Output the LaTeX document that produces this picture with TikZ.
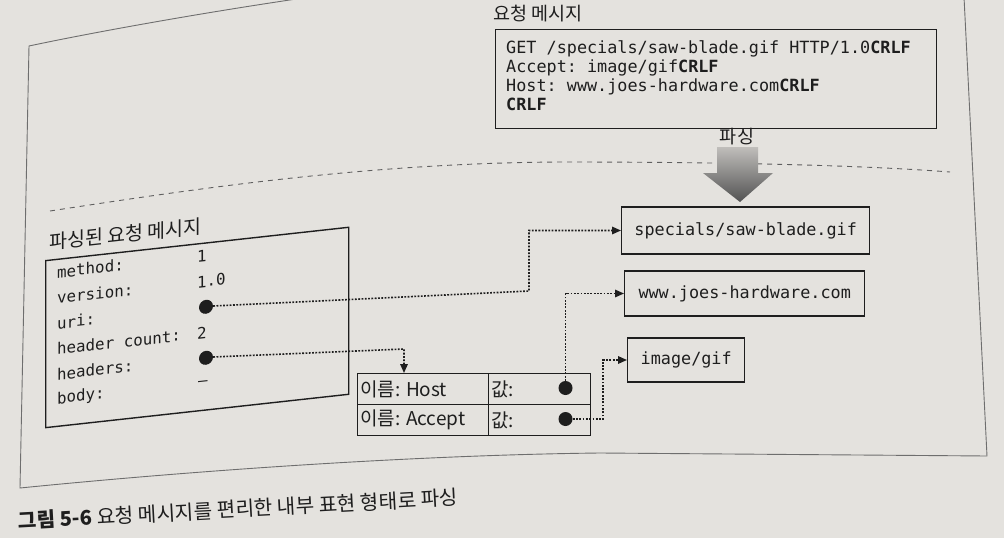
\documentclass[tikz,border=0pt]{standalone}
\usepackage{fontspec}
\setmainfont{Noto Sans CJK KR}
\setmonofont{DejaVu Sans Mono}
\usetikzlibrary{arrows.meta}
\definecolor{paper}{RGB}{228,226,222}
\definecolor{inkc}{RGB}{30,30,30}
\definecolor{framec}{RGB}{110,110,110}
\definecolor{dashc}{RGB}{95,95,95}
\begin{document}
\begin{tikzpicture}[x=1pt,y=-1pt,
  box/.style={draw=inkc, line width=1.4pt, inner sep=0pt},
  mono/.style={font=\fontsize{16.8}{20}\selectfont\ttfamily, text=inkc, inner sep=0pt},
  monosm/.style={font=\fontsize{15.8}{19}\selectfont\ttfamily, text=inkc, inner sep=0pt},
  kr/.style={font=\fontsize{18.5}{22}\selectfont, text=inkc, inner sep=0pt},
  krcell/.style={font=\fontsize{19}{22}\selectfont, text=inkc, inner sep=0pt},
  cell/.style={draw=inkc, line width=1.4pt, inner sep=0pt, minimum height=31pt, anchor=north west},
  ptr/.style={circle, fill=inkc, minimum size=14pt, inner sep=0pt},
  link/.style={draw=inkc, line width=1.6pt, dash pattern=on 1.8pt off 1.5pt},
  arrowend/.style={-{Triangle[length=9pt,width=7.5pt]}},
  framestyle/.style={draw=framec, line width=0.9pt},
  sep/.style={draw=dashc, line width=0.9pt, dash pattern=on 5pt off 5pt},
]
\useasboundingbox (0,0) rectangle (1004,538);
\fill[paper] (0,0) rectangle (1004,538);

% outer frame (photographed page, slightly curved)
\begin{scope}
\clip (0,0) rectangle (1004,538);
\draw[framestyle] (310,-3) .. controls (200,13) and (90,33) .. (29,46)
  -- (20,488) .. controls (200,470) and (420,455) .. (600,453)
  -- (987,456) -- (964,-3);
\end{scope}

% separator
\draw[sep] (50,211) .. controls (200,188) and (370,163) .. (560,162)
  .. controls (720,162) and (860,165) .. (950,172);

% request message
\node[kr, anchor=west] (reqtitle) at (493,14) {요청 메시지};
\node[box, anchor=north west, minimum width=441pt, minimum height=99pt] (req) at (495,29) {};
\node[mono, anchor=base west] (rq1) at (506,53) {GET /specials/saw-blade.gif HTTP/1.0\textbf{CRLF}};
\node[mono, anchor=base west] (rq2) at (506,72) {Accept: image/gif\textbf{CRLF}};
\node[mono, anchor=base west] (rq3) at (506,91) {Host: www.joes-hardware.com\textbf{CRLF}};
\node[mono, anchor=base west] (rq4) at (506,110) {\textbf{CRLF}};

% parsing arrow
\node[kr] (parse) at (737,137) {파싱};
\shade[top color={rgb,255:red,192;green,190;blue,187}, bottom color={rgb,255:red,82;green,82;blue,82}]
  (717,147) -- (758,147) -- (758,173) -- (773,173) -- (740,202) -- (703,173) -- (717,173) -- cycle;

% parsed message box (photographed with a slight shear)
\begin{scope}[shift={(45,260)}, yslant=0.11]
  \node[box, anchor=north west, minimum width=303pt, minimum height=167pt, transform shape] (pbox) at (0,0) {};
  \node[kr, anchor=west, transform shape] (ptitle) at (4,-17) {\fontsize{19.5}{22}\selectfont 파싱된 요청 메시지};
  \node[monosm, anchor=west, transform shape] (l1) at (12,13.5) {method:};
  \node[monosm, anchor=west, transform shape] (l2) at (12,39) {version:};
  \node[monosm, anchor=west, transform shape] (l3) at (12,64.5) {uri:};
  \node[monosm, anchor=west, transform shape] (l4) at (12,90) {header count:};
  \node[monosm, anchor=west, transform shape] (l5) at (12,115.5) {headers:};
  \node[monosm, anchor=west, transform shape] (l6) at (12,141) {body:};
  \node[monosm, anchor=west, transform shape] (v1) at (152,13.5) {1};
  \node[monosm, anchor=west, transform shape] (v2) at (152,39) {1.0};
  \node[ptr, transform shape] (dot1) at (161,64.5) {};
  \node[monosm, anchor=west, transform shape] (v4) at (152,90) {2};
  \node[ptr, transform shape] (dot2) at (161,115.5) {};
  \node[monosm, anchor=west, transform shape] (v6) at (153,141) {–};
\end{scope}

% header table
\node[cell, minimum width=131pt] (c11) at (357,373) {};
\node[cell, minimum width=102pt] (c12) at (488,373) {};
\node[cell, minimum width=131pt] (c21) at (357,404) {};
\node[cell, minimum width=102pt] (c22) at (488,404) {};
\node[krcell, anchor=west] (t11) at ([xshift=3pt]c11.west) {이름: Host};
\node[krcell, anchor=west] (t12) at ([xshift=3pt]c12.west) {값:};
\node[krcell, anchor=west] (t21) at ([xshift=3pt]c21.west) {이름: Accept};
\node[krcell, anchor=west] (t22) at ([xshift=3pt]c22.west) {값:};
\node[ptr] (hdot) at (565.5,388) {};
\node[ptr] (adot) at (565.5,419) {};

% value boxes
\node[box, mono, draw=inkc, anchor=west, minimum width=248pt, minimum height=47pt] (spec) at (621,230.5) {specials/saw-blade.gif};
\node[box, mono, draw=inkc, anchor=west, minimum width=240pt, minimum height=45pt] (www) at (624,293.5) {www.joes-hardware.com};
\node[box, mono, draw=inkc, anchor=west, minimum width=117pt, minimum height=44pt] (gif) at (627,360) {image/gif};

% connectors
\coordinate (c1) at (529,291);
\coordinate (c2) at (404,349);
\coordinate (c4) at (603,419);
\draw[link, arrowend] (dot1.east) -- (c1) |- (spec.west);
\draw[link, arrowend] (dot2.east) -- (c2) -- (c2 |- c11.north);
\draw[link, arrowend] (hdot.north) |- (www.west);
\draw[link, arrowend] (adot.east) -- (c4) |- (gif.west);

% caption
\node[font=\fontsize{20.2}{24}\selectfont, text=inkc, inner sep=0pt, anchor=west, rotate=3.1] (caption) at (18,521)
  {{\bfseries 그림 5-6} 요청 메시지를 편리한 내부 표현 형태로 파싱};
\end{tikzpicture}
\end{document}
